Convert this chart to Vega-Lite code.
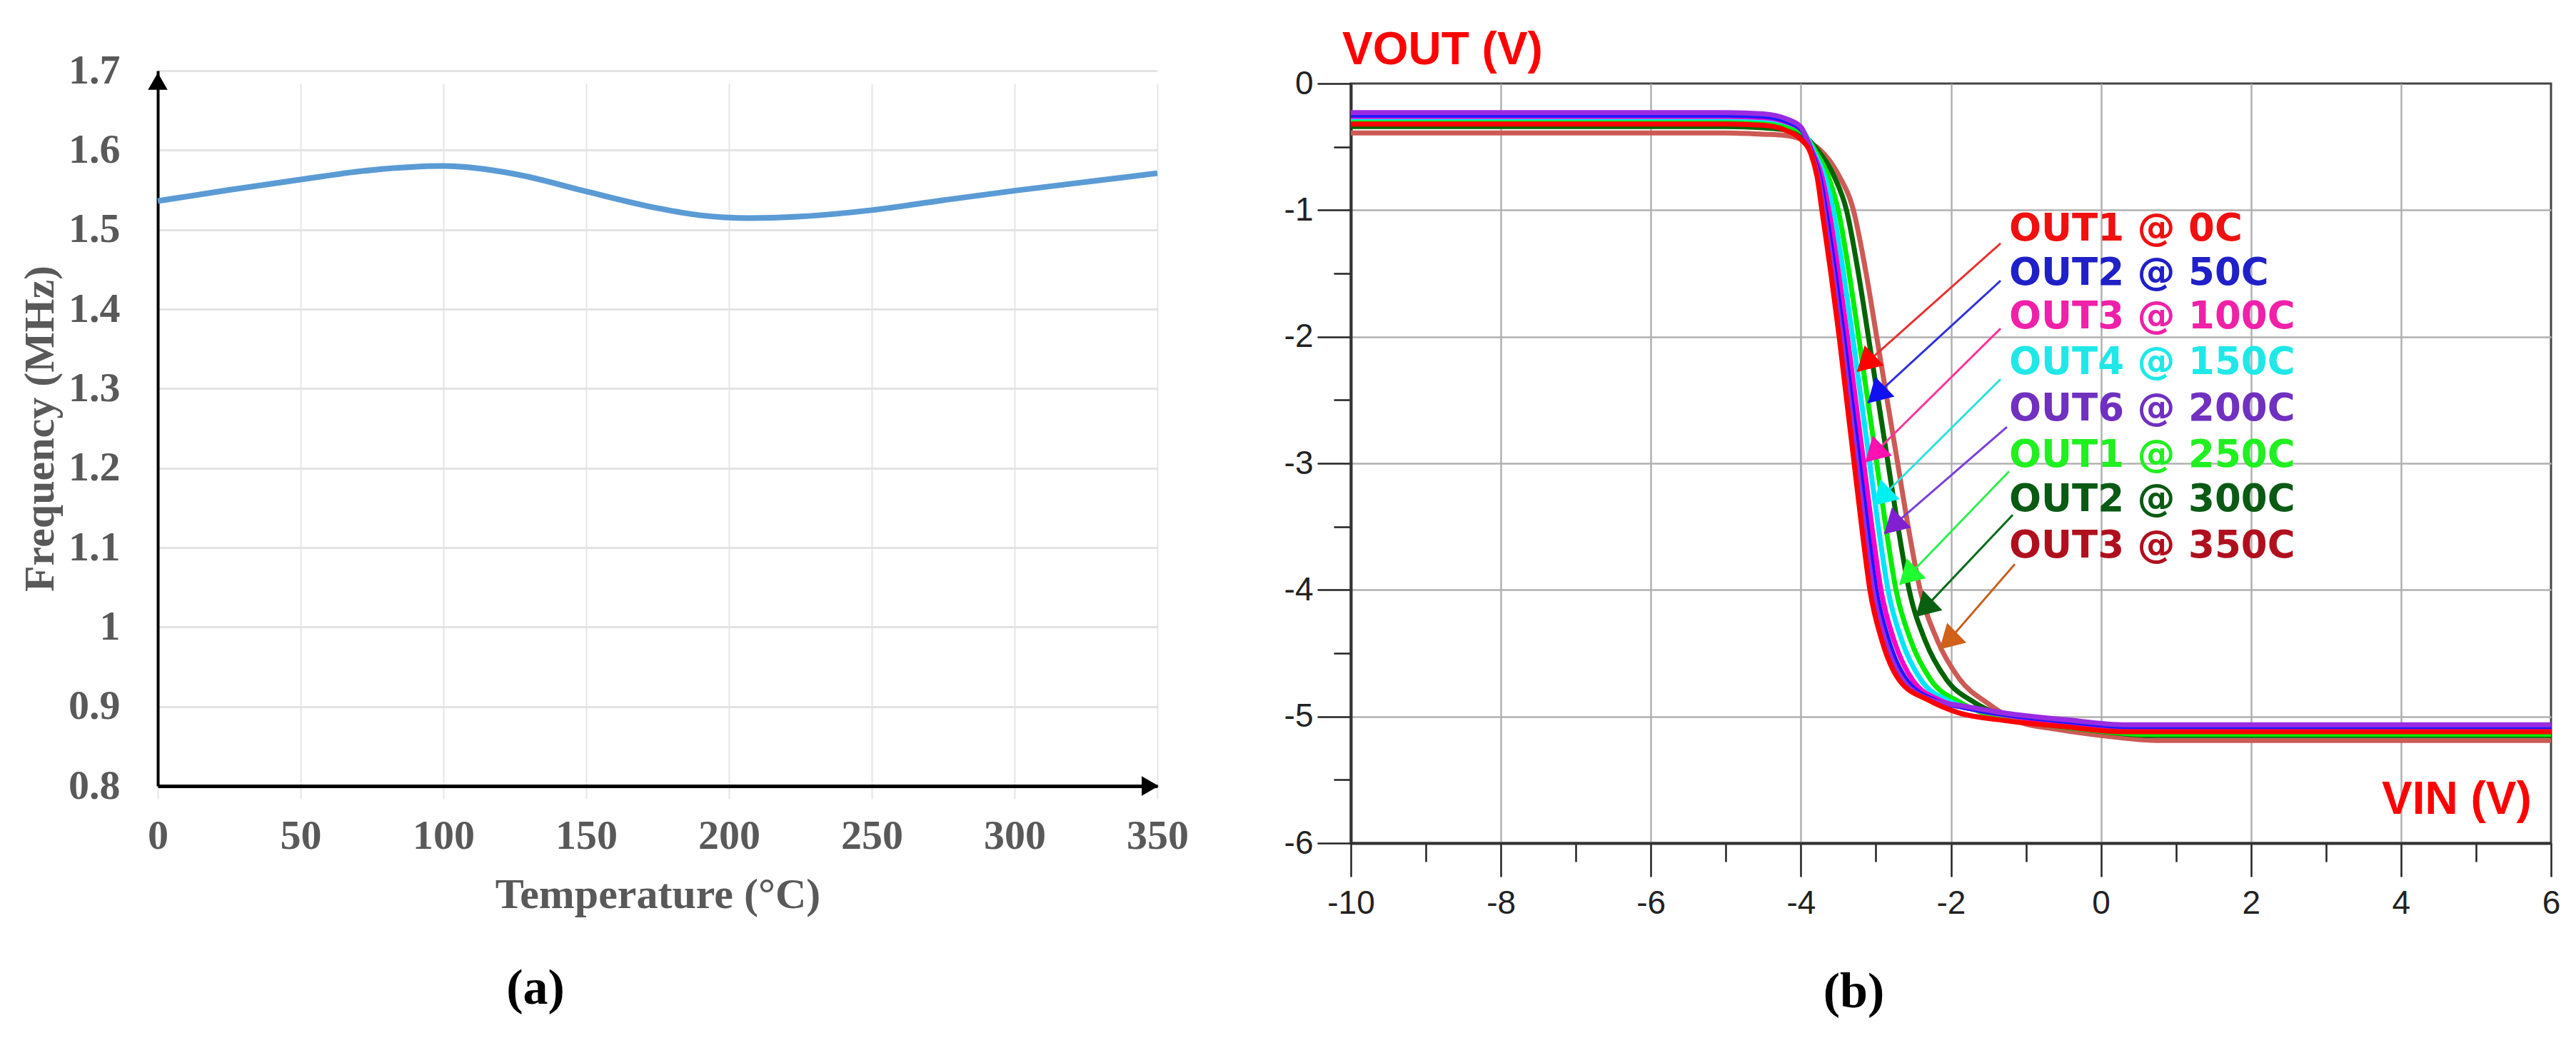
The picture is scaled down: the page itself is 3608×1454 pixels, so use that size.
{
  "$schema": "https://vega.github.io/schema/vega-lite/v6.json",
  "background": "white",
  "padding": {"left": 26, "top": 37, "right": 5, "bottom": 5},
  "spacing": 131,
  "config": {"view": {"stroke": null}, "font": "Liberation Sans"},
  "datasets": {
    "freq": [
      {"temp": 0, "freq": 1.536}, {"temp": 25, "freq": 1.550}, {"temp": 50, "freq": 1.563},
      {"temp": 75, "freq": 1.575}, {"temp": 100, "freq": 1.580}, {"temp": 125, "freq": 1.570},
      {"temp": 150, "freq": 1.548}, {"temp": 175, "freq": 1.527}, {"temp": 190, "freq": 1.518},
      {"temp": 207, "freq": 1.5145}, {"temp": 225, "freq": 1.5165}, {"temp": 250, "freq": 1.5245},
      {"temp": 275, "freq": 1.537}, {"temp": 300, "freq": 1.549}, {"temp": 325, "freq": 1.560},
      {"temp": 350, "freq": 1.571}
    ],
    "heads_a": [
      {"temp": 0, "freq": 1.6866, "dir": "up"},
      {"temp": 347.5, "freq": 0.8, "dir": "right"}
    ],
    "vtc": [
      {"t": 350, "vin": -10, "vout": -0.39}, {"t": 350, "vin": -5, "vout": -0.39}, {"t": 350, "vin": -4.5, "vout": -0.40}, {"t": 350, "vin": -4.2, "vout": -0.41}, {"t": 350, "vin": -3.95, "vout": -0.45}, {"t": 350, "vin": -3.75, "vout": -0.52}, {"t": 350, "vin": -3.5, "vout": -0.72}, {"t": 350, "vin": -3.30, "vout": -1.0}, {"t": 350, "vin": -3.13, "vout": -1.5}, {"t": 350, "vin": -2.99, "vout": -2.0}, {"t": 350, "vin": -2.85, "vout": -2.5}, {"t": 350, "vin": -2.71, "vout": -3.0}, {"t": 350, "vin": -2.57, "vout": -3.5}, {"t": 350, "vin": -2.41, "vout": -4.0}, {"t": 350, "vin": -2.18, "vout": -4.4}, {"t": 350, "vin": -1.89, "vout": -4.70}, {"t": 350, "vin": -1.50, "vout": -4.90}, {"t": 350, "vin": -1.1, "vout": -5.04}, {"t": 350, "vin": -0.6, "vout": -5.10}, {"t": 350, "vin": 0, "vout": -5.15}, {"t": 350, "vin": 0.8, "vout": -5.19}, {"t": 350, "vin": 6, "vout": -5.19},
      {"t": 300, "vin": -10, "vout": -0.34}, {"t": 300, "vin": -5, "vout": -0.34}, {"t": 300, "vin": -4.5, "vout": -0.35}, {"t": 300, "vin": -4.2, "vout": -0.367}, {"t": 300, "vin": -3.961, "vout": -0.413}, {"t": 300, "vin": -3.776, "vout": -0.527}, {"t": 300, "vin": -3.562, "vout": -0.727}, {"t": 300, "vin": -3.392, "vout": -1.0}, {"t": 300, "vin": -3.233, "vout": -1.5}, {"t": 300, "vin": -3.10, "vout": -2.0}, {"t": 300, "vin": -2.969, "vout": -2.5}, {"t": 300, "vin": -2.838, "vout": -3.0}, {"t": 300, "vin": -2.706, "vout": -3.5}, {"t": 300, "vin": -2.557, "vout": -4.0}, {"t": 300, "vin": -2.343, "vout": -4.4}, {"t": 300, "vin": -2.064, "vout": -4.704}, {"t": 300, "vin": -1.676, "vout": -4.893}, {"t": 300, "vin": -1.276, "vout": -5.0}, {"t": 300, "vin": -0.754, "vout": -5.06}, {"t": 300, "vin": -0.11, "vout": -5.11}, {"t": 300, "vin": 0.69, "vout": -5.15}, {"t": 300, "vin": 6, "vout": -5.15},
      {"t": 250, "vin": -10, "vout": -0.30}, {"t": 250, "vin": -5, "vout": -0.30}, {"t": 250, "vin": -4.5, "vout": -0.31}, {"t": 250, "vin": -4.2, "vout": -0.334}, {"t": 250, "vin": -3.974, "vout": -0.389}, {"t": 250, "vin": -3.808, "vout": -0.534}, {"t": 250, "vin": -3.634, "vout": -0.734}, {"t": 250, "vin": -3.502, "vout": -1.0}, {"t": 250, "vin": -3.356, "vout": -1.5}, {"t": 250, "vin": -3.23, "vout": -2.0}, {"t": 250, "vin": -3.109, "vout": -2.5}, {"t": 250, "vin": -2.988, "vout": -3.0}, {"t": 250, "vin": -2.868, "vout": -3.5}, {"t": 250, "vin": -2.732, "vout": -4.0}, {"t": 250, "vin": -2.535, "vout": -4.4}, {"t": 250, "vin": -2.269, "vout": -4.71}, {"t": 250, "vin": -1.884, "vout": -4.886}, {"t": 250, "vin": -1.484, "vout": -4.99}, {"t": 250, "vin": -0.936, "vout": -5.05}, {"t": 250, "vin": -0.24, "vout": -5.10}, {"t": 250, "vin": 0.56, "vout": -5.14}, {"t": 250, "vin": 6, "vout": -5.14},
      {"t": 150, "vin": -10, "vout": -0.27}, {"t": 150, "vin": -5, "vout": -0.27}, {"t": 150, "vin": -4.5, "vout": -0.28}, {"t": 150, "vin": -4.2, "vout": -0.309}, {"t": 150, "vin": -3.982, "vout": -0.368}, {"t": 150, "vin": -3.827, "vout": -0.539}, {"t": 150, "vin": -3.679, "vout": -0.739}, {"t": 150, "vin": -3.569, "vout": -1.0}, {"t": 150, "vin": -3.431, "vout": -1.5}, {"t": 150, "vin": -3.31, "vout": -2.0}, {"t": 150, "vin": -3.196, "vout": -2.5}, {"t": 150, "vin": -3.081, "vout": -3.0}, {"t": 150, "vin": -2.967, "vout": -3.5}, {"t": 150, "vin": -2.839, "vout": -4.0}, {"t": 150, "vin": -2.654, "vout": -4.4}, {"t": 150, "vin": -2.396, "vout": -4.713}, {"t": 150, "vin": -2.012, "vout": -4.881}, {"t": 150, "vin": -1.612, "vout": -4.95}, {"t": 150, "vin": -1.048, "vout": -5.01}, {"t": 150, "vin": -0.32, "vout": -5.06}, {"t": 150, "vin": 0.48, "vout": -5.10}, {"t": 150, "vin": 6, "vout": -5.10},
      {"t": 100, "vin": -10, "vout": -0.26}, {"t": 100, "vin": -5, "vout": -0.26}, {"t": 100, "vin": -4.5, "vout": -0.27}, {"t": 100, "vin": -4.2, "vout": -0.303}, {"t": 100, "vin": -3.989, "vout": -0.367}, {"t": 100, "vin": -3.844, "vout": -0.543}, {"t": 100, "vin": -3.718, "vout": -0.743}, {"t": 100, "vin": -3.628, "vout": -1.0}, {"t": 100, "vin": -3.497, "vout": -1.5}, {"t": 100, "vin": -3.38, "vout": -2.0}, {"t": 100, "vin": -3.271, "vout": -2.5}, {"t": 100, "vin": -3.162, "vout": -3.0}, {"t": 100, "vin": -3.054, "vout": -3.5}, {"t": 100, "vin": -2.933, "vout": -4.0}, {"t": 100, "vin": -2.757, "vout": -4.4}, {"t": 100, "vin": -2.506, "vout": -4.716}, {"t": 100, "vin": -2.124, "vout": -4.877}, {"t": 100, "vin": -1.724, "vout": -4.94}, {"t": 100, "vin": -1.146, "vout": -5.0}, {"t": 100, "vin": -0.39, "vout": -5.05}, {"t": 100, "vin": 0.41, "vout": -5.09}, {"t": 100, "vin": 6, "vout": -5.09},
      {"t": 50, "vin": -10, "vout": -0.25}, {"t": 50, "vin": -5, "vout": -0.25}, {"t": 50, "vin": -4.5, "vout": -0.26}, {"t": 50, "vin": -4.2, "vout": -0.296}, {"t": 50, "vin": -3.994, "vout": -0.363}, {"t": 50, "vin": -3.856, "vout": -0.546}, {"t": 50, "vin": -3.746, "vout": -0.746}, {"t": 50, "vin": -3.67, "vout": -1.0}, {"t": 50, "vin": -3.544, "vout": -1.5}, {"t": 50, "vin": -3.43, "vout": -2.0}, {"t": 50, "vin": -3.325, "vout": -2.5}, {"t": 50, "vin": -3.22, "vout": -3.0}, {"t": 50, "vin": -3.116, "vout": -3.5}, {"t": 50, "vin": -3.0, "vout": -4.0}, {"t": 50, "vin": -2.831, "vout": -4.4}, {"t": 50, "vin": -2.585, "vout": -4.718}, {"t": 50, "vin": -2.204, "vout": -4.874}, {"t": 50, "vin": -1.804, "vout": -4.93}, {"t": 50, "vin": -1.216, "vout": -4.99}, {"t": 50, "vin": -0.44, "vout": -5.04}, {"t": 50, "vin": 0.36, "vout": -5.08}, {"t": 50, "vin": 6, "vout": -5.08},
      {"t": 200, "vin": -10, "vout": -0.23}, {"t": 200, "vin": -5, "vout": -0.23}, {"t": 200, "vin": -4.5, "vout": -0.24}, {"t": 200, "vin": -4.2, "vout": -0.278}, {"t": 200, "vin": -3.997, "vout": -0.346}, {"t": 200, "vin": -3.863, "vout": -0.548}, {"t": 200, "vin": -3.763, "vout": -0.748}, {"t": 200, "vin": -3.695, "vout": -1.0}, {"t": 200, "vin": -3.572, "vout": -1.5}, {"t": 200, "vin": -3.46, "vout": -2.0}, {"t": 200, "vin": -3.358, "vout": -2.5}, {"t": 200, "vin": -3.255, "vout": -3.0}, {"t": 200, "vin": -3.153, "vout": -3.5}, {"t": 200, "vin": -3.04, "vout": -4.0}, {"t": 200, "vin": -2.876, "vout": -4.4}, {"t": 200, "vin": -2.633, "vout": -4.719}, {"t": 200, "vin": -2.252, "vout": -4.872}, {"t": 200, "vin": -1.852, "vout": -4.915}, {"t": 200, "vin": -1.258, "vout": -4.975}, {"t": 200, "vin": -0.47, "vout": -5.025}, {"t": 200, "vin": 0.33, "vout": -5.065}, {"t": 200, "vin": 6, "vout": -5.065},
      {"t": 0, "vin": -10, "vout": -0.32}, {"t": 0, "vin": -5, "vout": -0.32}, {"t": 0, "vin": -4.5, "vout": -0.33}, {"t": 0, "vin": -4.2, "vout": -0.37}, {"t": 0, "vin": -4.0, "vout": -0.44}, {"t": 0, "vin": -3.87, "vout": -0.55}, {"t": 0, "vin": -3.78, "vout": -0.75}, {"t": 0, "vin": -3.72, "vout": -1.0}, {"t": 0, "vin": -3.60, "vout": -1.5}, {"t": 0, "vin": -3.49, "vout": -2.0}, {"t": 0, "vin": -3.39, "vout": -2.5}, {"t": 0, "vin": -3.29, "vout": -3.0}, {"t": 0, "vin": -3.19, "vout": -3.5}, {"t": 0, "vin": -3.08, "vout": -4.0}, {"t": 0, "vin": -2.92, "vout": -4.4}, {"t": 0, "vin": -2.68, "vout": -4.72}, {"t": 0, "vin": -2.30, "vout": -4.87}, {"t": 0, "vin": -1.9, "vout": -4.97}, {"t": 0, "vin": -1.3, "vout": -5.03}, {"t": 0, "vin": -0.5, "vout": -5.08}, {"t": 0, "vin": 0.3, "vout": -5.12}, {"t": 0, "vin": 6, "vout": -5.12}
    ],
    "arrows": [
      {"t": 0, "x1": -1.338, "y1": -1.263, "x2": -3.251, "y2": -2.273, "hx": -3.137, "hy": -2.213},
      {"t": 50, "x1": -1.338, "y1": -1.557, "x2": -3.109, "y2": -2.521, "hx": -2.996, "hy": -2.460},
      {"t": 100, "x1": -1.338, "y1": -1.935, "x2": -3.137, "y2": -2.989, "hx": -3.029, "hy": -2.926},
      {"t": 150, "x1": -1.338, "y1": -2.335, "x2": -3.033, "y2": -3.333, "hx": -2.925, "hy": -3.270},
      {"t": 200, "x1": -1.253, "y1": -2.713, "x2": -2.890, "y2": -3.553, "hx": -2.775, "hy": -3.494},
      {"t": 250, "x1": -1.224, "y1": -3.063, "x2": -2.680, "y2": -3.959, "hx": -2.575, "hy": -3.895},
      {"t": 300, "x1": -1.176, "y1": -3.407, "x2": -2.461, "y2": -4.213, "hx": -2.357, "hy": -4.148},
      {"t": 350, "x1": -1.148, "y1": -3.796, "x2": -2.138, "y2": -4.473, "hx": -2.038, "hy": -4.404}
    ],
    "labels": [
      {"t": 0, "label": "OUT1 @ 0C", "vin": -1.224, "vout": -1.241},
      {"t": 50, "label": "OUT2 @ 50C", "vin": -1.224, "vout": -1.590},
      {"t": 100, "label": "OUT3 @ 100C", "vin": -1.224, "vout": -1.935},
      {"t": 150, "label": "OUT4 @ 150C", "vin": -1.224, "vout": -2.296},
      {"t": 200, "label": "OUT6 @ 200C", "vin": -1.224, "vout": -2.662},
      {"t": 250, "label": "OUT1 @ 250C", "vin": -1.224, "vout": -3.029},
      {"t": 300, "label": "OUT2 @ 300C", "vin": -1.224, "vout": -3.379},
      {"t": 350, "label": "OUT3 @ 350C", "vin": -1.224, "vout": -3.745}
    ],
    "axisnotes": [
      {"txt": "VOUT (V)", "vin": -10.114, "vout": 0.152},
      {"txt": "VIN (V)", "vin": 3.745, "vout": -5.770}
    ]
  },
  "hconcat": [
    {
      "width": 1400,
      "height": 984,
      "title": {"text": "(a)", "orient": "bottom", "frame": "group", "anchor": "middle", "dx": -171, "offset": 123, "font": "Liberation Serif", "fontSize": 70, "fontWeight": "bold", "color": "#000000", "baseline": "alphabetic"},
      "layer": [
        {
          "data": {"name": "freq"},
          "mark": {"type": "line", "interpolate": "monotone", "color": "#5b9bd5", "strokeWidth": 8},
          "encoding": {
            "x": {"field": "temp", "type": "quantitative",
              "scale": {"domain": [0, 350], "nice": false},
              "axis": {"values": [0, 50, 100, 150, 200, 250, 300, 350], "title": "Temperature (°C)", "grid": true, "gridColor": "#e6e6e6", "gridWidth": 2, "ticks": false, "domainColor": "#000000", "domainWidth": 5, "labelFont": "Liberation Serif", "labelFontWeight": "bold", "labelFontSize": 58, "labelColor": "#595959", "labelPadding": 41, "labelFlush": false, "titleFont": "Liberation Serif", "titleFontWeight": "bold", "titleFontSize": 60, "titleColor": "#595959", "titlePadding": 24}},
            "y": {"field": "freq", "type": "quantitative",
              "scale": {"domain": [0.8, 1.7], "nice": false, "zero": false, "range": [984, -18]},
              "axis": {"values": [0.8, 0.9, 1.0, 1.1, 1.2, 1.3, 1.4, 1.5, 1.6, 1.7], "format": "~g", "title": "Frequency (MHz)", "grid": true, "gridColor": "#e3e3e3", "gridWidth": 3, "ticks": false, "domainColor": "#000000", "domainWidth": 4, "labelFont": "Liberation Serif", "labelFontWeight": "bold", "labelFontSize": 58, "labelColor": "#595959", "labelPadding": 53, "titleFont": "Liberation Serif", "titleFontWeight": "bold", "titleFontSize": 60, "titleColor": "#595959", "titlePadding": 8}}
          }
        },
        {
          "data": {"name": "heads_a"},
          "mark": {"type": "point", "filled": true, "opacity": 1, "color": "#000000", "size": 750},
          "encoding": {
            "x": {"field": "temp", "type": "quantitative", "scale": {"domain": [0, 350], "nice": false}},
            "y": {"field": "freq", "type": "quantitative", "scale": {"domain": [0.8, 1.7], "nice": false, "zero": false, "range": [984, -18]}},
            "shape": {"field": "dir", "type": "nominal", "scale": {"domain": ["up", "right"], "range": ["triangle-up", "triangle-right"]}, "legend": null}
          }
        }
      ]
    },
    {
      "width": 1681,
      "height": 1064,
      "view": {"stroke": "#444444", "strokeWidth": 3},
      "title": {"text": "(b)", "orient": "bottom", "frame": "group", "anchor": "middle", "dx": -136, "offset": 123, "font": "Liberation Serif", "fontSize": 70, "fontWeight": "bold", "color": "#000000", "baseline": "alphabetic"},
      "resolve": {"scale": {"color": "independent"}},
      "layer": [
        {
          "data": {"name": "vtc"},
          "mark": {"type": "line", "interpolate": "monotone", "strokeWidth": 7},
          "encoding": {
            "x": {"field": "vin", "type": "quantitative",
              "scale": {"domain": [-10, 6], "nice": false, "zero": false},
              "axis": {"values": [-10, -9, -8, -7, -6, -5, -4, -3, -2, -1, 0, 1, 2, 3, 4, 5, 6], "title": null, "grid": true, "gridColor": "#b0b0b0", "gridWidth": 2.5,
                "gridOpacity": {"condition": {"test": "abs(datum.value % 2) == 1 || datum.value == 6 || datum.value == -10", "value": 0}, "value": 1},
                "domainColor": "#333333", "domainWidth": 4, "tickColor": "#222222", "tickWidth": 2.5,
                "tickSize": {"condition": {"test": "abs(datum.value % 2) == 1", "value": 26}, "value": 47},
                "labelExpr": "abs(datum.value % 2) == 1 ? '' : '' + datum.value",
                "labelFont": "Liberation Sans", "labelFontSize": 46, "labelColor": "#222222", "labelPadding": 15, "labelFlush": false, "labelOverlap": false}},
            "y": {"field": "vout", "type": "quantitative",
              "scale": {"domain": [-6, 0], "nice": false, "zero": false},
              "axis": {"values": [-6, -5.5, -5, -4.5, -4, -3.5, -3, -2.5, -2, -1.5, -1, -0.5, 0], "title": null, "grid": true, "gridColor": "#b0b0b0", "gridWidth": 2.5,
                "gridOpacity": {"condition": {"test": "datum.value % 1 != 0 || datum.value == 0 || datum.value == -6", "value": 0}, "value": 1},
                "domainColor": "#333333", "domainWidth": 4, "tickColor": "#222222", "tickWidth": 2.5,
                "tickSize": {"condition": {"test": "datum.value % 1 != 0", "value": 24}, "value": 47},
                "labelExpr": "datum.value % 1 != 0 ? '' : '' + datum.value",
                "labelFont": "Liberation Sans", "labelFontSize": 46, "labelColor": "#222222", "labelPadding": 6, "labelFlush": false, "labelOverlap": false}},
            "color": {"field": "t", "type": "nominal", "legend": null,
              "scale": {"domain": [0, 50, 100, 150, 200, 250, 300, 350], "range": ["#ff0000", "#1a1aff", "#ff00cc", "#00e5ff", "#9a2be2", "#00ee00", "#006400", "#cc5a55"]}}
          }
        },
        {
          "data": {"name": "arrows"},
          "mark": {"type": "rule", "strokeWidth": 3},
          "encoding": {
            "x": {"field": "x1", "type": "quantitative", "scale": {"domain": [-10, 6], "nice": false, "zero": false}},
            "y": {"field": "y1", "type": "quantitative", "scale": {"domain": [-6, 0], "nice": false, "zero": false}},
            "x2": {"field": "x2"},
            "y2": {"field": "y2"},
            "color": {"field": "t", "type": "nominal", "legend": null,
              "scale": {"domain": [0, 50, 100, 150, 200, 250, 300, 350], "range": ["#e83030", "#3030dd", "#ff3399", "#30e0e0", "#7a40d8", "#30ee50", "#0a6a1a", "#c8601e"]}}
          }
        },
        {
          "data": {"name": "arrows"},
          "mark": {"type": "point", "shape": "triangle-up", "filled": true, "opacity": 1, "size": 1500, "angle": 226},
          "encoding": {
            "x": {"field": "hx", "type": "quantitative", "scale": {"domain": [-10, 6], "nice": false, "zero": false}},
            "y": {"field": "hy", "type": "quantitative", "scale": {"domain": [-6, 0], "nice": false, "zero": false}},
            "color": {"field": "t", "type": "nominal", "legend": null,
              "scale": {"domain": [0, 50, 100, 150, 200, 250, 300, 350], "range": ["#ff0000", "#1010f0", "#ff10b0", "#00f0f0", "#8020d0", "#20ff30", "#0a6010", "#d0601a"]}}
          }
        },
        {
          "data": {"name": "labels"},
          "mark": {"type": "text", "align": "left", "baseline": "alphabetic", "font": "DejaVu Sans", "fontWeight": "bold", "fontSize": 53},
          "encoding": {
            "x": {"field": "vin", "type": "quantitative", "scale": {"domain": [-10, 6], "nice": false, "zero": false}},
            "y": {"field": "vout", "type": "quantitative", "scale": {"domain": [-6, 0], "nice": false, "zero": false}},
            "text": {"field": "label"},
            "color": {"field": "t", "type": "nominal", "legend": null,
              "scale": {"domain": [0, 50, 100, 150, 200, 250, 300, 350], "range": ["#f01010", "#2020c8", "#f020a8", "#20e8e8", "#7030c0", "#20f020", "#0a5a14", "#b0101e"]}}
          }
        },
        {
          "data": {"name": "axisnotes"},
          "mark": {"type": "text", "align": "left", "baseline": "alphabetic", "font": "Liberation Sans", "fontWeight": "bold", "fontSize": 64, "color": "#ff0000"},
          "encoding": {
            "x": {"field": "vin", "type": "quantitative", "scale": {"domain": [-10, 6], "nice": false, "zero": false}},
            "y": {"field": "vout", "type": "quantitative", "scale": {"domain": [-6, 0], "nice": false, "zero": false}},
            "text": {"field": "txt"}
          }
        }
      ]
    }
  ]
}
